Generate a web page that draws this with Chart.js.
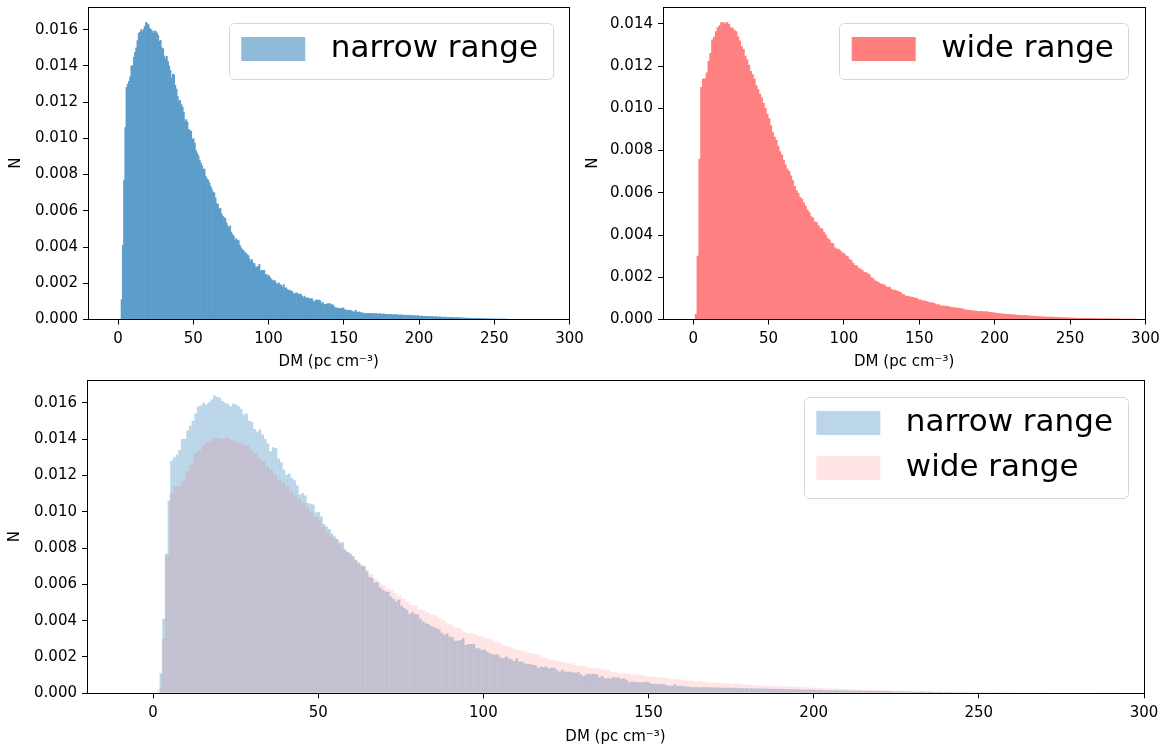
<!DOCTYPE html>
<html>
<head>
<meta charset="utf-8">
<script src="https://cdn.jsdelivr.net/npm/chart.js@4.4.1/dist/chart.umd.min.js"></script>
<style>
html,body{margin:0;padding:0;background:#fff;}
body{width:1164px;height:747px;position:relative;overflow:hidden;}
canvas{position:absolute;}
</style>
</head>
<body>
<canvas id="c1" width="592" height="380" style="left:0;top:0;width:592px;height:380px"></canvas>
<canvas id="c2" width="584" height="380" style="left:580px;top:0;width:584px;height:380px"></canvas>
<canvas id="c3" width="1164" height="372" style="left:0;top:375px;width:1164px;height:372px"></canvas>
<script>
// ---------------- data ----------------
const narrowLabel = 'narrow range';
const wideLabel = 'wide range';
const xTitle = 'DM (pc cm\u207B\u00B3)';
const yTitle = 'N';
const dmMin = -20, dmMax = 300;
const xTickValues = [0, 50, 100, 150, 200, 250, 300];
const yTickValuesNarrow = [0, 0.002, 0.004, 0.006, 0.008, 0.010, 0.012, 0.014, 0.016];
const yTickValuesWide = [0, 0.002, 0.004, 0.006, 0.008, 0.010, 0.012, 0.014];
const yMaxNarrow = 0.01725;
const yMaxWide = 0.0148;

// histogram bins (DM, pc cm^-3)
const narrowFirstEdge = 1.97, narrowBinWidth = 0.81;
const wideFirstEdge = 1.27, wideBinWidth = 1.212;

const narrowN = [
0.0011,0.0041,0.0077,0.0106,0.0128,0.0130,0.01315,0.0134,0.0140,0.0140,
0.01447,0.01475,0.0150,0.0154,0.0158,0.01585,0.0160,0.0159,0.01603,0.01618,
0.0164,0.01633,0.01628,0.01609,0.0160,0.01594,0.01581,0.01594,0.0159,0.01581,
0.01567,0.01535,0.01541,0.0150,0.01495,0.01455,0.0144,0.01453,0.01425,0.0140,
0.01375,0.01333,0.01355,0.0135,0.01293,0.01272,0.01232,0.01204,0.0121,0.01186,
0.01173,0.01144,0.01094,0.01103,0.01089,0.01048,0.01044,0.01039,0.00996,0.00998,
0.00974,0.00932,0.00919,0.00905,0.00879,0.00864,0.0085,0.00831,0.00831,0.0079,
0.00776,0.0077,0.00754,0.00735,0.0072,0.00704,0.00699,0.00671,0.0064,0.00636,
0.0061,0.00614,0.00583,0.0057,0.00562,0.00558,0.00533,0.00519,0.00505,0.00515,
0.00482,0.00469,0.0046,0.00437,0.00447,0.00437,0.00435,0.0041,0.00395,0.00386,
0.00382,0.00371,0.00367,0.00358,0.00353,0.00334,0.00322,0.00331,0.00312,0.00308,
0.0029,0.0029,0.00294,0.00305,0.00266,0.00272,0.00272,0.00272,0.00248,0.00248,
0.00239,0.00243,0.0023,0.00221,0.00215,0.00213,0.00213,0.00199,0.00193,0.00203,
0.00193,0.00188,0.00178,0.00193,0.00174,0.00175,0.00165,0.0016,0.00162,0.00157,
0.00155,0.00141,0.00146,0.00143,0.00147,0.00138,0.00141,0.0014,0.00129,0.00119,
0.00129,0.0012,0.00118,0.0012,0.00114,0.00113,0.00117,0.00105,0.00095,0.00105,
0.00108,0.00106,0.00107,0.00105,0.00088,0.00095,0.00083,0.00084,0.00082,0.00088,
0.00087,0.00088,0.00079,0.00083,0.00074,0.00064,0.00065,0.00063,0.00061,0.00062,
0.0006,0.00064,0.00063,0.00055,0.00051,0.00052,0.0005,0.00051,0.00051,0.00046,
0.00041,0.00042,0.0005,0.00041,0.0004,0.00042,0.00037,0.00038,0.00036,0.00033,
0.00034,0.00033,0.00032,0.00034,0.00033,0.00032,0.00033,0.00031,0.00033,0.00032,
0.00031,0.0003,0.00032,0.00029,0.0003,0.00031,0.00028,0.00029,0.00027,0.00029,
0.00027,0.00028,0.00026,0.00027,0.00025,0.00027,0.00026,0.00024,0.00025,0.00026,
0.00024,0.00023,0.00025,0.00023,0.00022,0.00024,0.00022,0.00021,0.00023,0.0002,
0.00021,0.0002,0.00019,0.00021,0.00019,0.00018,0.0002,0.00018,0.00017,0.00018,
0.00017,0.00016,0.00018,0.00016,0.00015,0.00017,0.00015,0.00014,0.00016,0.00014,
0.00013,0.00015,0.00013,0.00012,0.00014,0.00012,0.00013,0.00011,0.00012,0.00011,
0.0001,0.00012,0.0001,0.00011,0.00009,0.0001,0.00009,0.0001,0.00008,0.00009,
0.00008,0.00009,0.00007,0.00008,0.00008,0.00007,0.00006,0.00008,0.00007,0.00006,
0.00006,0.00007,0.00005,0.00006,0.00005,0.00006,0.00004,0.00005,0.00005,0.00004,
0.00004,0.00005,0.00003,0.00004,0.00003,0.00004,0.00003,0.00002,0.00003,0.00003,
0.00002,0.00003,0.00002,0.00002,0.00003,0.00002,0.00002
];

const wideN = [
0.00024,0.0030,0.0076,0.0110,0.0114,0.0114,0.01168,0.01223,0.0126,0.01324,
0.01337,0.01364,0.01383,0.01392,0.01407,0.01405,0.01402,0.01407,0.01398,0.01383,
0.0138,0.0137,0.01364,0.01339,0.0132,0.01293,0.0128,0.01247,0.0123,0.01205,
0.01175,0.0116,0.0114,0.01108,0.0109,0.01068,0.0105,0.01024,0.01,0.00972,
0.00952,0.00918,0.00885,0.00864,0.00848,0.0082,0.00795,0.0078,0.00755,0.00733,
0.00712,0.00702,0.0068,0.00658,0.00631,0.0061,0.00598,0.00579,0.0057,0.00552,
0.00537,0.00519,0.00506,0.00487,0.00482,0.00463,0.0046,0.00445,0.00432,0.0043,
0.00414,0.00401,0.00386,0.00377,0.00362,0.00359,0.0034,0.00334,0.00333,0.00325,
0.00316,0.00312,0.00303,0.00298,0.00285,0.00279,0.00266,0.00257,0.00254,0.00243,
0.00239,0.00233,0.00224,0.00222,0.00217,0.00211,0.00199,0.00193,0.00184,0.0018,
0.00175,0.00169,0.00166,0.00164,0.00156,0.00151,0.00154,0.00143,0.00138,0.00139,
0.00136,0.00132,0.00129,0.00119,0.00117,0.0011,0.00111,0.00107,0.00106,0.00105,
0.00101,0.001,0.00092,0.00093,0.00088,0.00088,0.00086,0.00083,0.00079,0.0008,
0.00078,0.00074,0.0007,0.00071,0.00064,0.00065,0.00064,0.00063,0.00061,0.0006,
0.00057,0.00055,0.00056,0.00053,0.00054,0.00052,0.0005,0.00047,0.00045,0.00044,
0.00043,0.00042,0.0004,0.00041,0.00039,0.00038,0.00039,0.00037,0.00036,0.00037,
0.00035,0.00034,0.00033,0.00031,0.0003,0.00029,0.00028,0.00027,0.00026,0.00026,
0.00025,0.00024,0.00023,0.00023,0.00022,0.00021,0.0002,0.0002,0.00019,0.00019,
0.00018,0.00018,0.00017,0.00016,0.00016,0.00015,0.00015,0.00014,0.00014,0.00013,
0.00013,0.00012,0.00012,0.00012,0.00011,0.00011,0.0001,0.0001,0.0001,0.00009,
0.00009,0.00009,0.00008,0.00008,0.00008,0.00007,0.00007,0.00007,0.00007,0.00006,
0.00006,0.00006,0.00006,0.00005,0.00005,0.00005,0.00005,0.00005,0.00004,0.00004,
0.00004,0.00004,0.00004,0.00003,0.00004,0.00003,0.00003,0.00003,0.00003,0.00003,
0.00003,0.00002,0.00003,0.00002,0.00002,0.00002,0.00002,0.00002,0.00002,0.00001,0.00002,0.00001
];

// ---------------- rendering ----------------
const FONT = "'DejaVu Sans', sans-serif";
Chart.defaults.font.family = FONT;
Chart.defaults.color = '#000';

function histPoints(firstEdge, width, counts) {
  return counts.map((n, i) => ({ x: firstEdge + (i + 0.5) * width, y: n }));
}

function alignPx(p) { return Math.round(p - 0.5) + 0.5; }

const framePlugin = {
  id: 'axesFrame',
  afterDraw(chart) {
    const { ctx, chartArea: a } = chart;
    ctx.save();
    ctx.strokeStyle = '#000';
    ctx.lineWidth = 1;
    const l = alignPx(a.left), r = alignPx(a.right), t = alignPx(a.top), b = alignPx(a.bottom);
    ctx.strokeRect(l, t, r - l, b - t);
    ctx.restore();
  }
};

const LEG_FS = 31;
const legendFramePlugin = {
  id: 'legendFrame',
  afterLayout(chart, args, opts) {
    const lg = chart.legend;
    if (!lg) return;
    const a = chart.chartArea;
    const ctx = chart.ctx;
    ctx.save();
    ctx.font = LEG_FS + 'px ' + FONT;
    let tw = 0;
    chart.data.datasets.forEach(d => { tw = Math.max(tw, ctx.measureText(d.label).width); });
    ctx.restore();
    const n = chart.data.datasets.length;
    const w = 101.5 + tw + 15;
    const h = n * 45 + 11;
    const right = a.right - opts.right;
    const top = a.top + opts.top;
    const left = right - w;
    chart.$legendFrame = { left, top, w, h };
    lg.left = left + 1;
    lg.top = top + 3;
    lg.right = left + w - 1;
    lg.bottom = top + h - 1;
  },
  beforeDraw(chart) {
    const f = chart.$legendFrame;
    if (!f) return;
    const ctx = chart.ctx;
    ctx.save();
    const x = alignPx(f.left), y = alignPx(f.top), w = Math.round(f.w), h = Math.round(f.h), r = 5;
    ctx.beginPath();
    ctx.moveTo(x + r, y);
    ctx.lineTo(x + w - r, y);
    ctx.arcTo(x + w, y, x + w, y + r, r);
    ctx.lineTo(x + w, y + h - r);
    ctx.arcTo(x + w, y + h, x + w - r, y + h, r);
    ctx.lineTo(x + r, y + h);
    ctx.arcTo(x, y + h, x, y + h - r, r);
    ctx.lineTo(x, y + r);
    ctx.arcTo(x, y, x + r, y, r);
    ctx.closePath();
    ctx.fillStyle = 'rgba(255,255,255,0.8)';
    ctx.fill();
    ctx.strokeStyle = 'rgb(214,214,214)';
    ctx.lineWidth = 1;
    ctx.stroke();
    ctx.restore();
  }
};

function buildOptions(o) {
  return {
    animation: false,
    responsive: false,
    maintainAspectRatio: false,
    devicePixelRatio: 1,
    events: [],
    layout: { padding: o.pad },
    plugins: {
      tooltip: { enabled: false },
      legend: {
        display: true,
        position: 'chartArea',
        fullSize: false,
        align: 'start',
        labels: {
          boxWidth: 84,
          boxHeight: 44,
          padding: 1,
          color: '#000',
          font: { family: FONT, size: LEG_FS },
          generateLabels: (chart) => chart.data.datasets.map((d, i) => ({
            text: d.label,
            fillStyle: o.legendColors[i],
            strokeStyle: '#ffffff',
            lineWidth: 20,
            lineCap: 'butt',
            lineJoin: 'miter',
            lineDash: [],
            lineDashOffset: 0,
            hidden: false,
            datasetIndex: i,
            fontColor: '#000'
          }))
        }
      },
      legendFrame: o.legendFrame
    },
    scales: Object.assign({
      x: {
        type: 'linear', min: dmMin, max: dmMax, offset: false,
        afterBuildTicks: s => { s.ticks = xTickValues.map(v => ({ value: v })); },
        afterFit: s => { s.height = o.xh; s.paddingLeft = 0; s.paddingRight = 0; },
        grid: { display: true, drawOnChartArea: false, drawTicks: true, tickLength: 5, color: '#000', lineWidth: 1, offset: false },
        border: { display: false },
        ticks: { color: '#000', font: { family: FONT, size: 15 }, padding: 6, maxRotation: 0, autoSkip: false, callback: v => String(v) },
        title: { display: true, text: xTitle, color: '#000', font: { family: FONT, size: 15 }, padding: { top: 0, bottom: o.xTitlePad } }
      },
      y: {
        type: 'linear', min: 0, max: o.ymax,
        afterBuildTicks: s => { s.ticks = o.yTicks.map(v => ({ value: v })); },
        afterFit: s => { s.width = o.yw; s.paddingTop = 0; s.paddingBottom = 0; },
        grid: { display: true, drawOnChartArea: false, drawTicks: true, tickLength: 5, color: '#000', lineWidth: 1 },
        border: { display: false },
        ticks: { color: '#000', font: { family: FONT, size: 15 }, padding: 5, callback: v => v.toFixed(3) },
        title: { display: true, text: yTitle, color: '#000', font: { family: FONT, size: 15 }, padding: { top: o.yTitlePad, bottom: 0 } }
      }
    }, o.extraScales || {})
  };
}

const barCommon = { borderWidth: 0, barPercentage: 1, categoryPercentage: 1, grouped: false };

// top-left: narrow range
new Chart(document.getElementById('c1'), {
  type: 'bar',
  data: { datasets: [Object.assign({
    label: narrowLabel,
    data: histPoints(narrowFirstEdge, narrowBinWidth, narrowN),
    backgroundColor: 'rgb(92,157,202)'
  }, barCommon)] },
  options: buildOptions({
    pad: { left: 0, right: 22.5, top: 7, bottom: 0 },
    xh: 60.5, yw: 88, ymax: yMaxNarrow, yTicks: yTickValuesNarrow,
    xTitlePad: 9, yTitlePad: 7,
    legendColors: ['rgba(31,119,180,0.5)'],
    legendFrame: { right: 16.5, top: 16 }
  }),
  plugins: [legendFramePlugin, framePlugin]
});

// top-right: wide range
new Chart(document.getElementById('c2'), {
  type: 'bar',
  data: { datasets: [Object.assign({
    label: wideLabel,
    data: histPoints(wideFirstEdge, wideBinWidth, wideN),
    backgroundColor: 'rgb(255,128,128)'
  }, barCommon)] },
  options: buildOptions({
    pad: { left: 0, right: 18.6, top: 7, bottom: 0 },
    xh: 60.5, yw: 83, ymax: yMaxWide, yTicks: yTickValuesWide,
    xTitlePad: 9, yTitlePad: 4,
    legendColors: ['rgba(255,0,0,0.5)'],
    legendFrame: { right: 16.5, top: 16 }
  }),
  plugins: [legendFramePlugin, framePlugin]
});

// bottom: both overlaid
new Chart(document.getElementById('c3'), {
  type: 'bar',
  data: { datasets: [
    Object.assign({
      label: narrowLabel,
      data: histPoints(narrowFirstEdge, narrowBinWidth, narrowN),
      backgroundColor: 'rgba(31,119,180,0.3)',
      xAxisID: 'x', order: 1, inflateAmount: 0
    }, barCommon),
    Object.assign({
      label: wideLabel,
      data: histPoints(wideFirstEdge, wideBinWidth, wideN),
      backgroundColor: 'rgba(255,0,0,0.1)',
      xAxisID: 'x2', order: 0, inflateAmount: 0
    }, barCommon)
  ] },
  options: buildOptions({
    pad: { left: 0, right: 20, top: 5, bottom: 0 },
    xh: 53.7, yw: 87, ymax: yMaxNarrow, yTicks: yTickValuesNarrow,
    xTitlePad: 1, yTitlePad: 6,
    legendColors: ['rgba(31,119,180,0.3)', 'rgba(255,0,0,0.1)'],
    legendFrame: { right: 16, top: 17 },
    extraScales: { x2: { type: 'linear', display: false, min: dmMin, max: dmMax, offset: false } }
  }),
  plugins: [legendFramePlugin, framePlugin]
});
</script>
</body>
</html>
